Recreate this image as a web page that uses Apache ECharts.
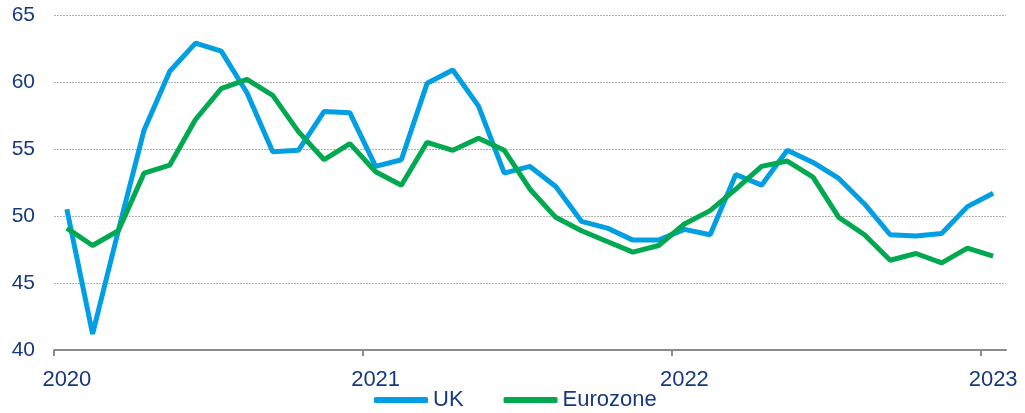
<!DOCTYPE html>
<html>
<head>
<meta charset="utf-8">
<script src="https://cdn.jsdelivr.net/npm/echarts@6/dist/echarts.min.js"></script>
<style>
  html, body { margin: 0; padding: 0; background: #fff; }
  #chart { width: 1025px; height: 413px; }
</style>
</head>
<body>
<div id="chart"></div>
<script>
// monthly, Jan 2020 .. Jan 2023
var months = []
for (var y = 2020; y <= 2023; y++) {
    for (var m = 1; m <= 12; m++) {
        if (y == 2023 && m > 1) break
        months.push(y + '-' + (m < 10 ? '0' + m : m))
    }
}

var ukValues = [
    50.5, 41.2, 48.9, 56.4, 60.8, 62.9, 62.3, 59.2, 54.8, 54.9, 57.8, 57.7,
    53.7, 54.2, 59.9, 60.9, 58.2, 53.2, 53.7, 52.2, 49.6, 49.1, 48.2, 48.2,
    49.0, 48.6, 53.1, 52.3, 54.9, 54.0, 52.8, 50.9, 48.6, 48.5, 48.7, 50.7,
    51.7
]

var ezValues = [
    49.1, 47.8, 48.9, 53.2, 53.8, 57.2, 59.5, 60.2, 59.0, 56.3, 54.2, 55.4,
    53.3, 52.3, 55.5, 54.9, 55.8, 54.9, 52.0, 49.9, 48.9, 48.1, 47.3, 47.8,
    49.4, 50.4, 52.0, 53.7, 54.1, 52.9, 49.9, 48.6, 46.7, 47.2, 46.5, 47.6,
    47.0
]

var yearLabels = ['2020', '2021', '2022', '2023']
var yTicks = { min: 40, max: 65, step: 5 }

var textColor = '#17397f'
var font = 'Liberation Sans, Arial'

function toPairs(values){
    return values.map(function(v, i){ return [i, v] })
}

function showChart(){
    // label on each January, tick on the boundary before it
    var labelPos = []
    var tickPos = []
    for (var i = 0; i < months.length; i++) {
        if (months[i].substr(5) == '01') {
            labelPos.push(i)
            tickPos.push(i - 0.5)
        }
    }

    var option = {
        animation: false,
        grid: { left: 54, right: 19, top: 15, bottom: 63 },
        legend: {
            left: 369,
            top: 384,
            icon: 'roundRect',
            itemWidth: 54,
            itemHeight: 6,
            itemGap: 40,
            textStyle: { color: textColor, fontSize: 22, fontFamily: font },
            data: ['UK', 'Eurozone']
        },
        xAxis: {
            type: 'value',
            min: -0.5,
            max: months.length - 0.5,
            axisLine: { show: true, lineStyle: { color: '#8c8c8c', width: 2 } },
            axisTick: { show: true, customValues: tickPos, length: 6, lineStyle: { color: '#8c8c8c', width: 2 } },
            axisLabel: {
                customValues: labelPos,
                margin: 19,
                color: textColor,
                fontSize: 22,
                fontFamily: font,
                formatter: function(v){ return yearLabels[Math.round(v / 12)] }
            },
            splitLine: { show: false }
        },
        yAxis: {
            type: 'value',
            min: yTicks.min,
            max: yTicks.max,
            interval: yTicks.step,
            axisLine: { show: false },
            axisTick: { show: false },
            axisLabel: { color: textColor, fontSize: 21, margin: 19, fontFamily: font },
            splitLine: { lineStyle: { color: '#b0b0b0', type: [2, 1], width: 1 } }
        },
        series: [
            {
                name: 'UK',
                type: 'line',
                data: toPairs(ukValues),
                symbol: 'none',
                color: '#009fe3',
                lineStyle: { width: 5, color: '#009fe3' },
                z: 2
            },
            {
                name: 'Eurozone',
                type: 'line',
                data: toPairs(ezValues),
                symbol: 'none',
                color: '#00a94f',
                lineStyle: { width: 5, color: '#00a94f' },
                z: 3
            }
        ]
    }

    var myChart = echarts.init(document.getElementById('chart'))
    myChart.setOption(option)
}

showChart()
</script>
</body>
</html>
